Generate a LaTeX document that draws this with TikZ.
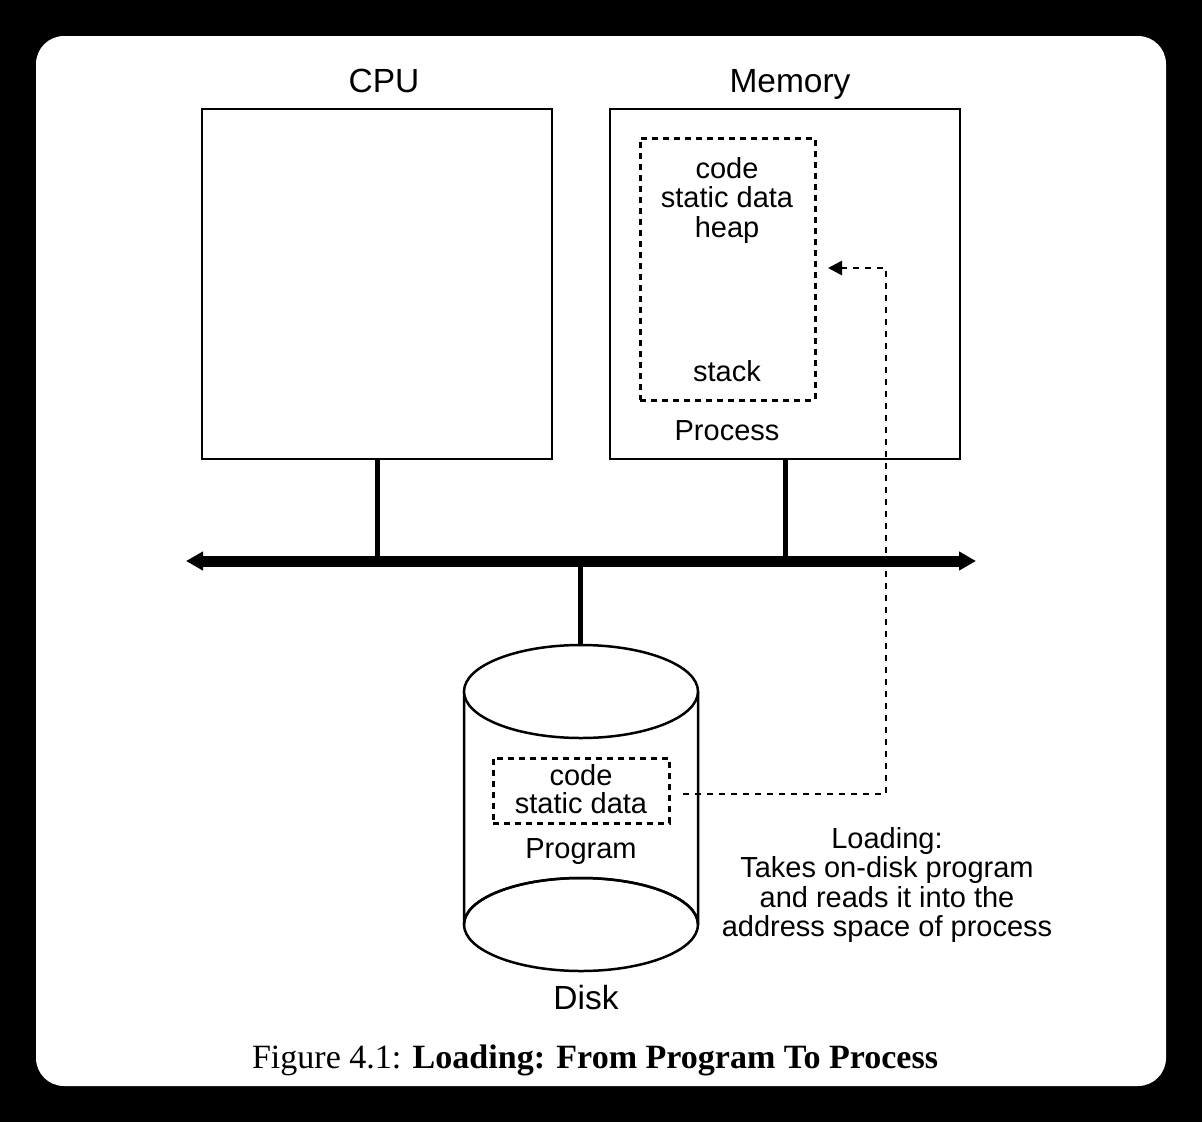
\documentclass[tikz,border=0pt]{standalone}
\usepackage{fontspec}
\newfontfamily\sansfnt{Liberation Sans}
\newfontfamily\capfnt{Liberation Serif}
\usetikzlibrary{arrows.meta}
\begin{document}
\begin{tikzpicture}[x=1pt,y=-1pt,
  box/.style={draw,line width=2.5pt,minimum width=350pt,minimum height=350pt,inner sep=0pt},
  dbox/.style={draw,line width=3pt,dash pattern=on 6pt off 5pt,inner sep=0pt},
  big/.style={font=\sansfnt\fontsize{33.5}{36}\selectfont,inner sep=0pt,anchor=base},
  txt/.style={font=\sansfnt\fontsize{29}{29.5}\selectfont,inner sep=0pt,anchor=base},
  link/.style={line width=5pt},
  bus/.style={line width=11pt,{Triangle[length=17pt,width=18pt]}-{Triangle[length=17pt,width=18pt]}},
  load/.style={line width=2.8pt,dash pattern=on 6pt off 6pt,-{Triangle[length=14pt,width=14pt]}},
  disk/.style={line width=2.5pt}]
\useasboundingbox (0,0) rectangle (1202,1122);
\fill[black] (0,0) rectangle (1202,1122);
\fill[white,rounded corners=28pt] (36,36) rectangle (1166,1086);
% boxes
\node[box] (cpu) at (377,284) {};
\node[box] (mem) at (785,284) {};
\node[big] (cpul) at (384,92) {CPU};
\node[big] (meml) at (790,92) {Memory};
\node[dbox,minimum width=175pt,minimum height=262pt] (proc) at (727.5,269) {};
\node[txt] (m1) at (727,178) {code};
\node[txt] (m2) at (727,207.5) {static data};
\node[txt] (m3) at (727,237) {heap};
\node[txt] (m4) at (727,381.5) {stack};
\node[txt] (procl) at (727,440) {Process};
% bus
\coordinate (busL) at (186,561);
\coordinate (busR) at (976,561);
\draw[bus] (busL) -- (busR);
\coordinate (cpub) at (377,561);
\coordinate (memb) at (785,561);
\coordinate (diskb) at (580,561);
\draw[link] (cpu.south) -- (cpub);
\draw[link] (mem.south) -- (memb);
% disk
\coordinate (disktop) at (580,646);
\draw[link] (diskb) -- (disktop);
\draw[disk,fill=white] (464,691.5) -- (464,924.5) arc[start angle=180,end angle=360,x radius=117,y radius=46.5] -- (698,691.5);
\draw[disk] (581,924.5) ellipse[x radius=117,y radius=46.5];
\draw[disk,fill=white] (581,691.5) ellipse[x radius=117,y radius=46.5];
\node[dbox,minimum width=176pt,minimum height=65pt] (prog) at (581,790.5) {};
\node[txt] (p1) at (581,785) {code};
\node[txt] (p2) at (581,813.5) {static data};
\node[txt] (progl) at (581,858) {Program};
\node[big] (diskl) at (586,1009) {Disk};
% loading arrow
\coordinate (ls) at (683,794);
\coordinate (lc1) at (886,794);
\coordinate (lc2) at (886,268);
\coordinate (le) at (828,268);
\draw[load] (ls) -- (lc1) -- (lc2) -- (le);
\node[txt] (l1) at (887,848.5) {Loading:};
\node[txt] (l2) at (887,877.7) {Takes on-disk program};
\node[txt] (l3) at (887,907) {and reads it into the};
\node[txt] (l4) at (887,936) {address space of process};
% caption
\node[inner sep=0pt,anchor=base] (cap) at (595,1068) {\resizebox{686pt}{!}{\capfnt\fontsize{30}{36}\selectfont Figure 4.1: \textbf{Loading: From Program To Process}}};
\end{tikzpicture}
\end{document}
